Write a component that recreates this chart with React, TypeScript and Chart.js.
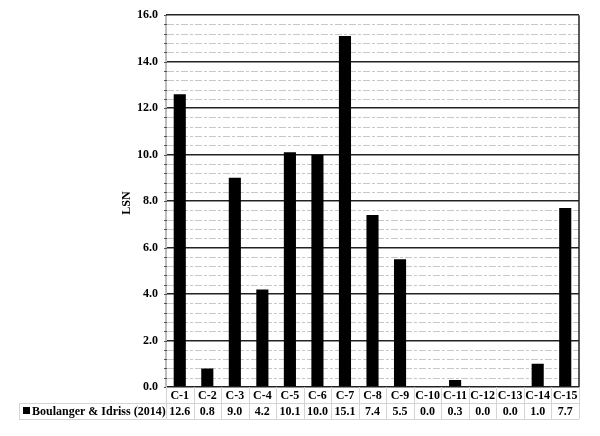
import React, { useEffect, useRef } from "react";
import { Chart, registerables } from "chart.js";

Chart.register(...registerables);

const categories = ["C-1", "C-2", "C-3", "C-4", "C-5", "C-6", "C-7", "C-8", "C-9", "C-10", "C-11", "C-12", "C-13", "C-14", "C-15"];
const lsnValues = [12.6, 0.8, 9.0, 4.2, 10.1, 10.0, 15.1, 7.4, 5.5, 0.0, 0.3, 0.0, 0.0, 1.0, 7.7];
const seriesName = "Boulanger & Idriss (2014)";
const yTitle = "LSN";
const yMin = 0;
const yMax = 16;
const majorStep = 2;
const minorStep = 0.4;

const FONT = "'Liberation Serif', 'Times New Roman', serif";

const tablePlugin = {
  id: "tablePlugin",
  beforeDatasetsDraw(chart: any) {
    const { ctx, chartArea, scales } = chart;
    const y = scales.y;
    ctx.save();
    // minor dashed grid
    ctx.strokeStyle = "#c8c8c8";
    ctx.lineWidth = 1;
    ctx.setLineDash([7, 2, 3, 2]);
    const n = Math.round((yMax - yMin) / minorStep);
    for (let i = 1; i < n; i++) {
      const v = yMin + i * minorStep;
      if (Math.abs(v / majorStep - Math.round(v / majorStep)) < 1e-6) continue;
      const py = Math.round(y.getPixelForValue(v)) + 0.5;
      ctx.beginPath();
      ctx.moveTo(chartArea.left + 1, py);
      ctx.lineTo(chartArea.right, py);
      ctx.stroke();
    }
    ctx.setLineDash([]);
    // left axis with minor ticks
    ctx.strokeStyle = "#bdbdbd";
    ctx.lineWidth = 2;
    ctx.beginPath();
    ctx.moveTo(chartArea.left, chartArea.top);
    ctx.lineTo(chartArea.left, chartArea.bottom);
    ctx.stroke();
    ctx.strokeStyle = "#555";
    ctx.lineWidth = 1;
    for (let i = 0; i <= n; i++) {
      const py = Math.round(y.getPixelForValue(yMin + i * minorStep)) + 0.5;
      ctx.beginPath();
      ctx.moveTo(chartArea.left - 2, py);
      ctx.lineTo(chartArea.left + 1, py);
      ctx.stroke();
    }
    ctx.restore();
  },
  afterDraw(chart: any) {
    const { ctx, chartArea, scales } = chart;
    const x = scales.x;
    const top = chartArea.bottom;
    const rowH = 16;
    const r1 = top + rowH;
    const r2 = r1 + rowH;
    const legendLeft = 19;
    ctx.save();
    // right border
    ctx.strokeStyle = "#222";
    ctx.lineWidth = 1.5;
    ctx.beginPath();
    ctx.moveTo(chartArea.right, chartArea.top);
    ctx.lineTo(chartArea.right, chartArea.bottom);
    ctx.stroke();
    // table lines
    ctx.strokeStyle = "#d4d4d4";
    ctx.lineWidth = 1;
    ctx.beginPath();
    ctx.moveTo(legendLeft, r1 + 0.5);
    ctx.lineTo(chartArea.right, r1 + 0.5);
    ctx.moveTo(legendLeft, r2 + 0.5);
    ctx.lineTo(chartArea.right, r2 + 0.5);
    ctx.moveTo(legendLeft + 0.5, r1);
    ctx.lineTo(legendLeft + 0.5, r2);
    const w = (chartArea.right - chartArea.left) / categories.length;
    for (let i = 0; i <= categories.length; i++) {
      const px = Math.round(chartArea.left + i * w) + 0.5;
      ctx.moveTo(px, top);
      ctx.lineTo(px, r2);
    }
    ctx.stroke();
    // text
    ctx.fillStyle = "#000";
    ctx.font = `bold 12px ${FONT}`;
    ctx.textAlign = "center";
    ctx.textBaseline = "middle";
    categories.forEach((c, i) => {
      const px = x.getPixelForValue(i);
      ctx.fillText(c, px, top + rowH / 2 + 1);
      ctx.fillText(lsnValues[i].toFixed(1), px, r1 + rowH / 2 + 1);
    });
    // legend cell
    ctx.fillRect(23, r1 + 4, 7, 7);
    ctx.textAlign = "left";
    ctx.fillText(seriesName, 32, r1 + rowH / 2 + 1);
    // y title
    ctx.translate(127, 203);
    ctx.rotate(-Math.PI / 2);
    ctx.textAlign = "center";
    ctx.fillText(yTitle, 0, 0);
    ctx.restore();
  },
};

export default function App() {
  const ref = useRef<HTMLCanvasElement | null>(null);
  useEffect(() => {
    if (!ref.current) return;
    const chart = new Chart(ref.current, {
      type: "bar",
      data: {
        labels: categories,
        datasets: [
          {
            label: seriesName,
            data: lsnValues,
            backgroundColor: "#000",
            borderColor: "#000",
            borderWidth: 0,
            barPercentage: 0.88,
            categoryPercentage: 0.5,
          },
        ],
      },
      options: {
        animation: false,
        responsive: false,
        maintainAspectRatio: false,
        layout: { padding: { left: 0, right: 21, top: 15, bottom: 0 } },
        plugins: { legend: { display: false }, tooltip: { enabled: false } },
        scales: {
          x: {
            grid: { display: false, drawTicks: false },
            border: { display: false },
            ticks: { display: false },
            afterFit: (s: any) => {
              s.height = 49;
            },
          },
          y: {
            min: yMin,
            max: yMax,
            ticks: {
              stepSize: majorStep,
              padding: 8,
              color: "#000",
              font: { family: FONT, size: 12, weight: "bold" },
              callback: (v: any) => Number(v).toFixed(1),
            },
            grid: { color: "#222", lineWidth: 1.5, drawTicks: false },
            border: { display: false },
            afterFit: (s: any) => {
              s.width = 166;
            },
          },
        },
      },
      plugins: [tablePlugin],
    });
    return () => chart.destroy();
  }, []);
  return (
    <div style={{ position: "fixed", left: 0, top: 0, width: 600, height: 436, background: "#fff" }}>
      <canvas ref={ref} width={600} height={436} style={{ width: 600, height: 436 }} />
    </div>
  );
}
